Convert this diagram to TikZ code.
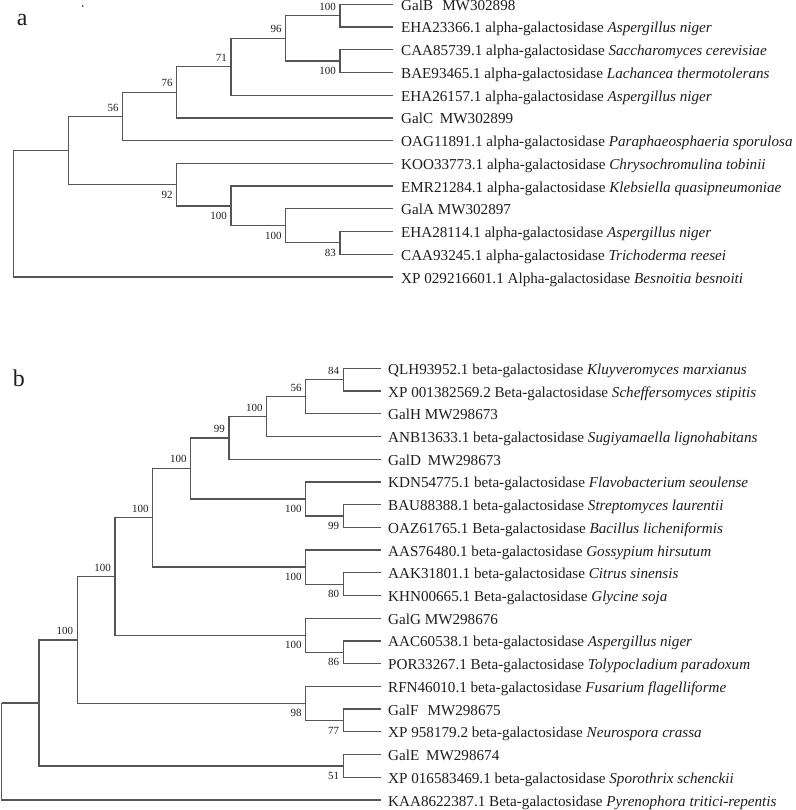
\documentclass[tikz,border=0pt]{standalone}
\usepackage{fontspec}
\setmainfont{Liberation Serif}
\definecolor{linegray}{RGB}{85,85,85}
\definecolor{txt}{RGB}{30,30,30}
\begin{document}
\begin{tikzpicture}[x=1bp,y=-1bp,
  br/.style={draw=linegray, line width=1.3bp},
  leaf/.style={anchor=base west, inner sep=0pt, font=\fontsize{15.2}{16}\selectfont, text=txt},
  bsup/.style={anchor=base east, inner sep=0pt, font=\fontsize{11}{11}\selectfont, text=txt},
  panel/.style={anchor=base west, inner sep=0pt, font=\fontsize{24}{24}\selectfont, text=txt}]
\useasboundingbox (0,0) rectangle (796,810);

% ---------------- panel a ----------------
\node[panel] (la) at (16.7,26) {a};
\fill[txt] (82.7,6) circle (0.8);

% leaves a
\coordinate (a1) at (393,4.3);
\coordinate (a2) at (393,27.0);
\coordinate (a3) at (393,49.7);
\coordinate (a4) at (393,72.5);
\coordinate (a5) at (393,95.2);
\coordinate (a6) at (393,117.9);
\coordinate (a7) at (393,140.6);
\coordinate (a8) at (393,163.3);
\coordinate (a9) at (393,186.1);
\coordinate (a10) at (393,208.8);
\coordinate (a11) at (393,231.5);
\coordinate (a12) at (393,254.2);
\coordinate (a13) at (393,277.0);

\node[leaf] (ta1) at (401,11.0) {GalB\hspace{0.6em}MW302898};
\node[leaf] (ta2) at (401,33.0) {EHA23366.1 alpha-galactosidase \textit{Aspergillus niger}};
\node[leaf] (ta3) at (401,55.7) {CAA85739.1 alpha-galactosidase \textit{Saccharomyces cerevisiae}};
\node[leaf] (ta4) at (401,78.5) {BAE93465.1 alpha-galactosidase \textit{Lachancea thermotolerans}};
\node[leaf] (ta5) at (401,101.2) {EHA26157.1 alpha-galactosidase \textit{Aspergillus niger}};
\node[leaf] (ta6) at (401,123.9) {GalC\hspace{0.45em}MW302899};
\node[leaf] (ta7) at (401,146.6) {OAG11891.1 alpha-galactosidase \textit{Paraphaeosphaeria sporulosa}};
\node[leaf] (ta8) at (401,169.3) {KOO33773.1 alpha-galactosidase \textit{Chrysochromulina tobinii}};
\node[leaf] (ta9) at (401,192.1) {EMR21284.1 alpha-galactosidase \textit{Klebsiella quasipneumoniae}};
\node[leaf] (ta10) at (401,214.8) {GalA MW302897};
\node[leaf] (ta11) at (401,237.5) {EHA28114.1 alpha-galactosidase \textit{Aspergillus niger}};
\node[leaf] (ta12) at (401,260.2) {CAA93245.1 alpha-galactosidase \textit{Trichoderma reesei}};
\node[leaf] (ta13) at (401,283.0) {XP 029216601.1 Alpha-galactosidase \textit{Besnoitia besnoiti}};

% internal nodes a
\coordinate (ra) at (13.3,150.6);
\coordinate (nA) at (68.3,150.6);
\coordinate (n56) at (122.7,116.5);
\coordinate (n76) at (176.7,92.4);
\coordinate (n71) at (231,66.8);
\coordinate (n96) at (285.7,38.4);
\coordinate (n100t) at (340,15.7);
\coordinate (n100u) at (340,61.1);
\coordinate (n92) at (176.7,184.6);
\coordinate (n100a) at (231,205.9);
\coordinate (n100b) at (285.7,225.8);
\coordinate (n83) at (340,242.8);

\draw[br] (ra) |- (nA);
\draw[br] (ra) |- (a13);
\draw[br] (nA) |- (n56);
\draw[br] (nA) |- (n92);
\draw[br] (n56) |- (n76);
\draw[br] (n56) |- (a7);
\draw[br] (n76) |- (n71);
\draw[br] (n76) |- (a6);
\draw[br] (n71) |- (n96);
\draw[br] (n71) |- (a5);
\draw[br] (n96) |- (n100t);
\draw[br] (n96) |- (n100u);
\draw[br] (n100t) |- (a1);
\draw[br] (n100t) |- (a2);
\draw[br] (n100u) |- (a3);
\draw[br] (n100u) |- (a4);
\draw[br] (n92) |- (a8);
\draw[br] (n92) |- (n100a);
\draw[br] (n100a) |- (a9);
\draw[br] (n100a) |- (n100b);
\draw[br] (n100b) |- (a10);
\draw[br] (n100b) |- (n83);
\draw[br] (n83) |- (a11);
\draw[br] (n83) |- (a12);

% bootstrap a
\node[bsup] (b56) at ([shift={(-4,-5.5)}]n56) {56};
\node[bsup] (b76) at ([shift={(-4,-5.5)}]n76) {76};
\node[bsup] (b71) at ([shift={(-4,-5.5)}]n71) {71};
\node[bsup] (b96) at ([shift={(-4,-5.5)}]n96) {96};
\node[bsup] (b100t) at ([shift={(-4,-5.5)}]n100t) {100};
\node[bsup] (b100u) at ([shift={(-4,13.5)}]n100u) {100};
\node[bsup] (b92) at ([shift={(-4,13.5)}]n92) {92};
\node[bsup] (b100a) at ([shift={(-4,13.5)}]n100a) {100};
\node[bsup] (b100b) at ([shift={(-4,13.5)}]n100b) {100};
\node[bsup] (b83) at ([shift={(-4,13.5)}]n83) {83};

% ---------------- panel b ----------------
\node[panel] (lb) at (12.7,386.7) {b};

\coordinate (b1) at (381,368.3);
\coordinate (b2) at (381,391.0);
\coordinate (b3) at (381,413.7);
\coordinate (b4) at (381,436.5);
\coordinate (b5) at (381,459.2);
\coordinate (b6) at (381,481.9);
\coordinate (b7) at (381,504.6);
\coordinate (b8) at (381,527.3);
\coordinate (b9) at (381,550.1);
\coordinate (b10) at (381,572.8);
\coordinate (b11) at (381,595.5);
\coordinate (b12) at (381,618.2);
\coordinate (b13) at (381,640.9);
\coordinate (b14) at (381,663.7);
\coordinate (b15) at (381,686.4);
\coordinate (b16) at (381,709.1);
\coordinate (b17) at (381,731.8);
\coordinate (b18) at (381,754.5);
\coordinate (b19) at (381,777.3);
\coordinate (b20) at (381,800.0);

\node[leaf] (tb1) at (388,374.3) {QLH93952.1 beta-galactosidase \textit{Kluyveromyces marxianus}};
\node[leaf] (tb2) at (388,397.0) {XP 001382569.2 Beta-galactosidase \textit{Scheffersomyces stipitis}};
\node[leaf] (tb3) at (388,419.7) {GalH MW298673};
\node[leaf] (tb4) at (388,442.5) {ANB13633.1 beta-galactosidase \textit{Sugiyamaella lignohabitans}};
\node[leaf] (tb5) at (388,465.2) {GalD\hspace{0.45em}MW298673};
\node[leaf] (tb6) at (388,487.9) {KDN54775.1 beta-galactosidase \textit{Flavobacterium seoulense}};
\node[leaf] (tb7) at (388,510.6) {BAU88388.1 beta-galactosidase \textit{Streptomyces laurentii}};
\node[leaf] (tb8) at (388,533.3) {OAZ61765.1 Beta-galactosidase \textit{Bacillus licheniformis}};
\node[leaf] (tb9) at (388,556.1) {AAS76480.1 beta-galactosidase \textit{Gossypium hirsutum}};
\node[leaf] (tb10) at (388,578.8) {AAK31801.1 beta-galactosidase \textit{Citrus sinensis}};
\node[leaf] (tb11) at (388,601.5) {KHN00665.1 Beta-galactosidase \textit{Glycine soja}};
\node[leaf] (tb12) at (388,624.2) {GalG MW298676};
\node[leaf] (tb13) at (388,646.9) {AAC60538.1 beta-galactosidase \textit{Aspergillus niger}};
\node[leaf] (tb14) at (388,669.7) {POR33267.1 Beta-galactosidase \textit{Tolypocladium paradoxum}};
\node[leaf] (tb15) at (388,692.4) {RFN46010.1 beta-galactosidase \textit{Fusarium flagelliforme}};
\node[leaf] (tb16) at (388,715.1) {GalF\hspace{0.6em}MW298675};
\node[leaf] (tb17) at (388,737.8) {XP 958179.2 beta-galactosidase \textit{Neurospora crassa}};
\node[leaf] (tb18) at (388,760.5) {GalE\hspace{0.45em}MW298674};
\node[leaf] (tb19) at (388,783.3) {XP 016583469.1 beta-galactosidase \textit{Sporothrix schenckii}};
\node[leaf] (tb20) at (388,806.0) {KAA8622387.1 Beta-galactosidase \textit{Pyrenophora tritici-repentis}};

% internal nodes b
\coordinate (rb) at (1.7,702.9);
\coordinate (m39) at (39,702.9);
\coordinate (m77) at (77.3,640);
\coordinate (m115) at (115,576.5);
\coordinate (m152) at (152.7,517.8);
\coordinate (m190) at (190.7,468.4);
\coordinate (m229) at (229,437.9);
\coordinate (m266) at (266.7,416.6);
\coordinate (m305) at (305.7,396.7);
\coordinate (m84) at (343.3,379.7);
\coordinate (mkdn) at (305.7,498.9);
\coordinate (m99) at (343.3,516);
\coordinate (maas) at (305.7,567.1);
\coordinate (m80) at (343.3,584.2);
\coordinate (mgalg) at (305.7,635.2);
\coordinate (m86) at (343.3,652.3);
\coordinate (m98) at (305.7,703.4);
\coordinate (m77b) at (343.3,720.5);
\coordinate (m51) at (343.3,765.9);

\draw[br] (rb) |- (m39);
\draw[br] (rb) |- (b20);
\draw[br] (m39) |- (m77);
\draw[br] (m39) |- (m51);
\draw[br] (m51) |- (b18);
\draw[br] (m51) |- (b19);
\draw[br] (m77) |- (m115);
\draw[br] (m77) |- (m98);
\draw[br] (m98) |- (b15);
\draw[br] (m98) |- (m77b);
\draw[br] (m77b) |- (b16);
\draw[br] (m77b) |- (b17);
\draw[br] (m115) |- (m152);
\draw[br] (m115) |- (mgalg);
\draw[br] (mgalg) |- (b12);
\draw[br] (mgalg) |- (m86);
\draw[br] (m86) |- (b13);
\draw[br] (m86) |- (b14);
\draw[br] (m152) |- (m190);
\draw[br] (m152) |- (maas);
\draw[br] (maas) |- (b9);
\draw[br] (maas) |- (m80);
\draw[br] (m80) |- (b10);
\draw[br] (m80) |- (b11);
\draw[br] (m190) |- (m229);
\draw[br] (m190) |- (mkdn);
\draw[br] (mkdn) |- (b6);
\draw[br] (mkdn) |- (m99);
\draw[br] (m99) |- (b7);
\draw[br] (m99) |- (b8);
\draw[br] (m229) |- (m266);
\draw[br] (m229) |- (b5);
\draw[br] (m266) |- (m305);
\draw[br] (m266) |- (b4);
\draw[br] (m305) |- (m84);
\draw[br] (m305) |- (b3);
\draw[br] (m84) |- (b1);
\draw[br] (m84) |- (b2);

% bootstrap b
\node[bsup] (c84) at ([shift={(-4,-5.5)}]m84) {84};
\node[bsup] (c56) at ([shift={(-4,-5.5)}]m305) {56};
\node[bsup] (c100a) at ([shift={(-4,-5.5)}]m266) {100};
\node[bsup] (c99a) at ([shift={(-4,-5.5)}]m229) {99};
\node[bsup] (c100b) at ([shift={(-4,-5.5)}]m190) {100};
\node[bsup] (c100c) at ([shift={(-4,-5.5)}]m152) {100};
\node[bsup] (c100d) at ([shift={(-4,-5.5)}]m115) {100};
\node[bsup] (c100e) at ([shift={(-4,-5.5)}]m77) {100};
\node[bsup] (c100f) at ([shift={(-4,13.5)}]mkdn) {100};
\node[bsup] (c99b) at ([shift={(-4,13.5)}]m99) {99};
\node[bsup] (c100g) at ([shift={(-4,13.5)}]maas) {100};
\node[bsup] (c80) at ([shift={(-4,13.5)}]m80) {80};
\node[bsup] (c100h) at ([shift={(-4,13.5)}]mgalg) {100};
\node[bsup] (c86) at ([shift={(-4,13.5)}]m86) {86};
\node[bsup] (c98) at ([shift={(-4,13.5)}]m98) {98};
\node[bsup] (c77) at ([shift={(-4,13.5)}]m77b) {77};
\node[bsup] (c51) at ([shift={(-4,13.5)}]m51) {51};
\end{tikzpicture}
\end{document}
